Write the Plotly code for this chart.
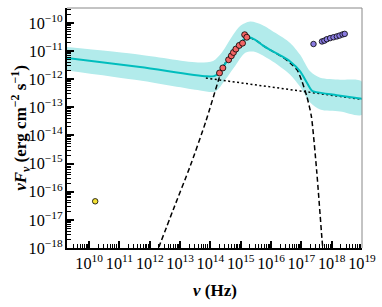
import numpy as np
import plotly.graph_objects as go

# ---- data (log10 values) ----
model_lognu = [9.27, 11.68, 13.88, 14.12, 14.26, 14.39, 14.59, 14.79, 14.98, 15.12, 15.25,
               15.48, 15.74, 15.97, 16.30, 16.63, 16.96, 17.18, 17.35, 17.49, 18.17, 19.0]
model_logf = [-11.25, -11.57, -11.90, -11.89, -11.80, -11.59, -11.31, -10.99, -10.74, -10.57, -10.50,
              -10.60, -10.81, -10.96, -11.15, -11.37, -11.72, -12.12, -12.41, -12.46, -12.57, -12.70]

band_up_lognu = [9.27, 11.68, 13.66, 14.09, 14.39, 14.75, 14.98, 15.31, 15.71, 16.14, 16.63,
                 16.96, 17.29, 17.62, 18.28, 19.0]
band_up_logf = [-10.86, -11.13, -11.41, -11.35, -11.03, -10.42, -10.11, -9.95, -10.07, -10.35, -10.71,
                -11.13, -11.72, -11.95, -12.02, -12.09]
band_lo_lognu = [9.27, 11.68, 13.66, 14.16, 14.49, 14.82, 15.15, 15.48, 15.97, 16.63, 16.96,
                 17.29, 17.62, 18.28, 19.0]
band_lo_logf = [-11.69, -12.05, -12.40, -12.44, -12.02, -11.52, -11.06, -11.03, -11.31, -11.84, -12.27,
                -12.83, -13.08, -13.15, -13.26]

disk_lognu = [12.20, 12.78, 13.33, 13.85, 14.27, 14.38, 14.60, 14.90, 15.10, 15.25, 15.50,
              15.80, 16.10, 16.40, 16.63, 16.86, 17.02, 17.18, 17.33, 17.51, 17.68, 17.74]
disk_logf = [-18.25, -16.62, -15.10, -13.50, -12.02, -11.66, -11.22, -10.82, -10.60, -10.52, -10.62,
             -10.85, -11.04, -11.23, -11.42, -11.67, -12.08, -12.61, -13.32, -15.32, -17.68, -18.40]

pl_lognu = [13.85, 15.41, 17.29, 18.17, 19.0]
pl_logf = [-11.96, -12.19, -12.45, -12.58, -12.72]

opt_lognu = [14.30, 14.41, 14.60, 14.69, 14.76, 14.84, 14.95, 15.06, 15.13, 15.20]
opt_logf = [-11.78, -11.60, -11.31, -11.17, -11.05, -10.93, -10.80, -10.72, -10.42, -10.51]

xray_lognu = [17.40, 17.68, 17.76, 17.84, 17.95, 18.06, 18.17, 18.26, 18.36, 18.43]
xray_logf = [-10.75, -10.66, -10.63, -10.58, -10.54, -10.51, -10.48, -10.45, -10.41, -10.39]

radio_lognu = [10.20]
radio_logf = [-16.34]

x_title = "<b><i>ν</i> (Hz)</b>"
y_title = "<b><i>νF<sub>ν</sub></i> (erg cm<sup>−2</sup> s<sup>−1</sup>)</b>"


def p10(a):
    return list(10.0 ** np.asarray(a, dtype=float))


CYAN = "#00BDBD"
BAND = "#B2EBEB"
FONT = "Liberation Serif"

fig = go.Figure()

fig.add_trace(go.Scatter(
    x=p10(band_up_lognu + band_lo_lognu[::-1]),
    y=p10(band_up_logf + band_lo_logf[::-1]),
    mode="lines", fill="toself", fillcolor=BAND,
    line=dict(width=0, shape="spline", smoothing=0.8), hoverinfo="skip"))

fig.add_trace(go.Scatter(x=p10(pl_lognu), y=p10(pl_logf), mode="lines",
                         line=dict(color="black", width=1.5, dash="2px,2.5px")))
fig.add_trace(go.Scatter(x=p10(disk_lognu), y=p10(disk_logf), mode="lines",
                         line=dict(color="black", width=1.5, dash="5px,3px",
                                   shape="spline", smoothing=0.6)))
fig.add_trace(go.Scatter(x=p10(model_lognu), y=p10(model_logf), mode="lines",
                         line=dict(color=CYAN, width=2, shape="spline", smoothing=0.8)))

fig.add_trace(go.Scatter(x=p10(opt_lognu), y=p10(opt_logf), mode="markers",
                         marker=dict(color="#F26464", size=6,
                                     line=dict(color="black", width=0.8))))
fig.add_trace(go.Scatter(x=p10(xray_lognu), y=p10(xray_logf), mode="markers",
                         marker=dict(color="#8A7BE0", size=5.5,
                                     line=dict(color="black", width=0.8))))
fig.add_trace(go.Scatter(x=p10(radio_lognu), y=p10(radio_logf), mode="markers",
                         marker=dict(color="#F2E034", size=5.5,
                                     line=dict(color="black", width=0.8))))

axis_common = dict(
    type="log", dtick=1, exponentformat="power", showexponent="all",
    ticks="inside", ticklen=7, tickwidth=1.5, tickcolor="black",
    showline=True, linecolor="black", linewidth=1.5,
    showgrid=False, zeroline=False, automargin=False, tickangle=0,
    minor=dict(ticks="inside", ticklen=4, tickwidth=1, tickcolor="black", showgrid=False),
    tickfont=dict(family=FONT, size=13, color="black"),
)

fig.update_layout(
    width=382, height=307,
    margin=dict(l=67, r=20, t=8, b=59),
    paper_bgcolor="white", plot_bgcolor="white",
    showlegend=False,
    xaxis=dict(axis_common, range=[9.27, 19.0]),
    yaxis=dict(axis_common, range=[-18.0, -9.47]),
    shapes=[
        dict(type="line", xref="paper", yref="paper", x0=0, x1=1, y0=1, y1=1,
             line=dict(color="#888888", width=1)),
        dict(type="line", xref="paper", yref="paper", x0=1, x1=1, y0=0, y1=1,
             line=dict(color="#888888", width=1)),
    ],
    annotations=[
        dict(text=x_title, xref="paper", yref="paper", x=0.502, y=-0.175,
             xanchor="center", yanchor="middle", showarrow=False,
             font=dict(family=FONT, size=17, color="black")),
        dict(text=y_title, xref="paper", yref="paper", x=-0.16, y=0.50,
             xanchor="center", yanchor="middle", showarrow=False, textangle=-90,
             font=dict(family=FONT, size=17, color="black")),
    ],
)

fig.write_html("out.html", config={"displayModeBar": False},
               post_script="document.body.style.margin='0px';")
